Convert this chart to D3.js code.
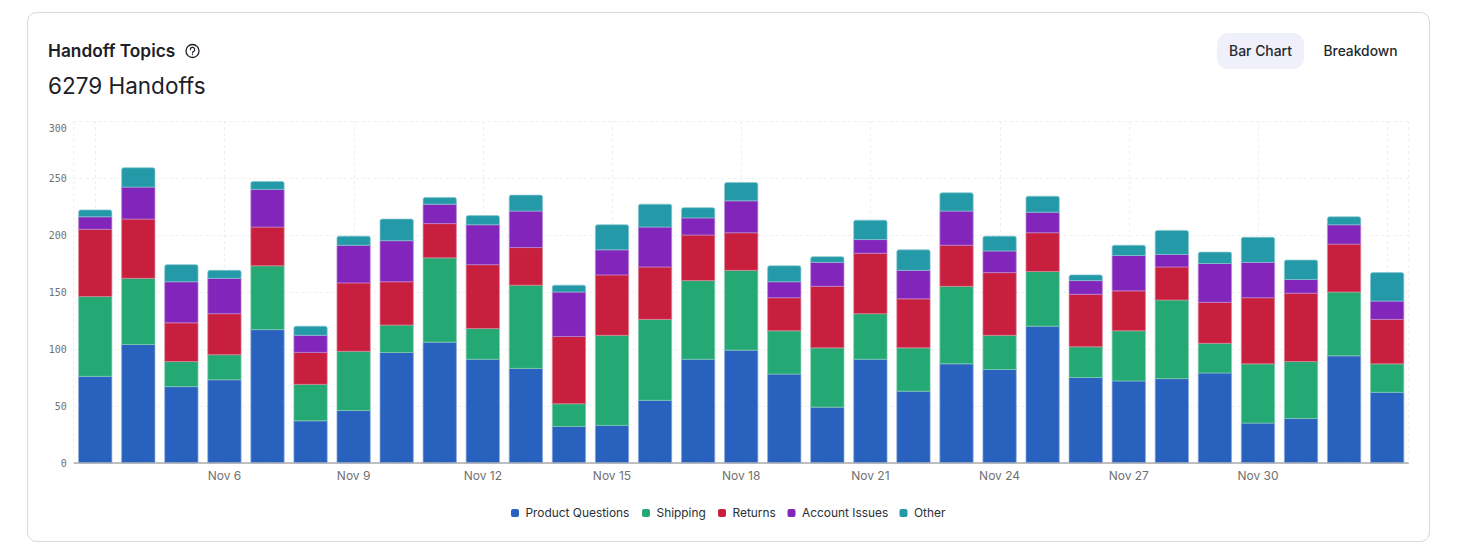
<!DOCTYPE html>
<html><head><meta charset="utf-8">
<script src="https://cdn.jsdelivr.net/npm/d3@7"></script>
<style>
html,body{margin:0;padding:0;background:#fff;width:1458px;height:559px;overflow:hidden}
svg{display:block}
text{font-family:Inter,sans-serif}
</style></head><body>
<svg id="c" width="1458" height="559"></svg>
<script>
const dates=["Nov 3","Nov 4","Nov 5","Nov 6","Nov 7","Nov 8","Nov 9","Nov 10","Nov 11","Nov 12","Nov 13","Nov 14","Nov 15","Nov 16","Nov 17","Nov 18","Nov 19","Nov 20","Nov 21","Nov 22","Nov 23","Nov 24","Nov 25","Nov 26","Nov 27","Nov 28","Nov 29","Nov 30","Dec 1","Dec 2","Dec 3"];
const productQuestions=[76,104,67,73,117,37,46,97,106,91,83,32,33,55,91,99,78,49,91,63,87,82,120,75,72,74,79,35,39,94,62];
const shipping=[70,58,22,22,56,32,52,24,74,27,73,20,79,71,69,70,38,52,40,38,68,30,48,27,44,69,26,52,50,56,25];
const returnsVals=[59,52,34,36,34,28,60,38,30,56,33,59,53,46,40,33,29,54,53,43,36,55,34,46,35,29,36,58,60,42,39];
const accountIssues=[11,28,36,31,33,15,33,36,17,35,32,39,22,35,15,28,14,21,12,25,30,19,18,12,31,11,34,31,12,17,16];
const other=[6,17,15,7,7,8,8,19,6,8,14,6,22,20,9,16,14,5,17,18,16,13,14,5,9,21,10,22,17,7,25];
const seriesNames=["Product Questions","Shipping","Returns","Account Issues","Other"];
const seriesValues=[productQuestions,shipping,returnsVals,accountIssues,other];
const seriesColors=["#2961bf","#24a874","#c91f3f","#8226bb","#249aa8"];
const yTicks=[0,50,100,150,200,250,300];
const xTickDates=["Nov 3","Nov 6","Nov 9","Nov 12","Nov 15","Nov 18","Nov 21","Nov 24","Nov 27","Nov 30","Dec 3"];
const hiddenXLabels=["Nov 3","Dec 3"];

const svg=d3.select("#c");
svg.append("rect").attr("x",27.5).attr("y",12.5).attr("width",1402).attr("height",529).attr("rx",9)
  .attr("fill","#fff").attr("stroke","#d6d9e0");

const header=svg.append("g");
header.append("text").attr("x",48).attr("y",56.5).attr("font-size",17.3).attr("font-weight",600).attr("fill","#1c2026").text("Handoff Topics");
const help=header.append("g").attr("transform","translate(192.5,51)").attr("fill","none").attr("stroke","#1c2026");
help.append("circle").attr("r",6.5).attr("stroke-width",1.3);
help.append("path").attr("d","M-2.2,-1.4 A2.2,2.2 0 1 1 0.9,0.6 C0.2,0.9 0,1.2 0,1.9").attr("stroke-width",1.2).attr("stroke-linecap","round");
help.append("circle").attr("cy",3.6).attr("r",0.7).attr("fill","#1c2026").attr("stroke","none");
header.append("text").attr("x",48).attr("y",94).attr("font-size",22.5).attr("font-weight",400).attr("fill","#1c2026").text("6279 Handoffs");
header.append("rect").attr("x",1217).attr("y",33).attr("width",87).attr("height",36).attr("rx",11).attr("fill","#eff0fa");
header.append("text").attr("x",1260.5).attr("y",56).attr("text-anchor","middle").attr("font-size",13.9).attr("font-weight",500).attr("fill","#24282e").text("Bar Chart");
header.append("text").attr("x",1360.5).attr("y",56).attr("text-anchor","middle").attr("font-size",13.8).attr("font-weight",500).attr("fill","#24282e").text("Breakdown");

const plotL=73.7,plotR=1408.7,plotB=463,plotT=121;
const x=d3.scaleBand().domain(dates).range([plotL,plotR]).paddingInner(0.21).paddingOuter(0.105);
const y=d3.scaleLinear().domain([0,300]).range([plotB,plotT]);

const grid=svg.append("g").attr("fill","none").attr("stroke","#eeeff1").attr("stroke-dasharray","3 3").attr("stroke-width",1);
grid.selectAll(".h").data(yTicks).join("line").attr("class","h").attr("x1",plotL).attr("x2",plotR)
  .attr("y1",d=>Math.round(y(d))+.5).attr("y2",d=>Math.round(y(d))+.5);
grid.selectAll(".v").data(xTickDates).join("line").attr("class","v")
  .attr("x1",d=>Math.round(x(d)+x.bandwidth()/2)+.5).attr("x2",d=>Math.round(x(d)+x.bandwidth()/2)+.5)
  .attr("y1",plotT).attr("y2",plotB);
[plotL,plotR].forEach(v=>grid.append("line").attr("x1",v).attr("x2",v).attr("y1",plotT).attr("y2",plotB));

const table=dates.map((d,i)=>{const r={date:d};seriesNames.forEach((n,k)=>r[n]=seriesValues[k][i]);return r;});
const stacked=d3.stack().keys(seriesNames)(table);
const bars=svg.append("g");
stacked.forEach((layer,k)=>{
  const c=seriesColors[k], c0=d3.interpolateRgb(c,"#fff")(0.45);
  bars.append("g").selectAll("path").data(layer).join("path")
    .attr("fill",c).attr("stroke",c0).attr("stroke-width",0.7)
    .attr("d",d=>{
      const x0=x(d.data.date)+.35,x1=x0+x.bandwidth()-.7,y0=y(d[0]),y1=y(d[1]);
      if(k===seriesNames.length-1){const r=2;
        return `M${x0},${y0}V${y1+r}Q${x0},${y1} ${x0+r},${y1}H${x1-r}Q${x1},${y1} ${x1},${y1+r}V${y0}Z`;}
      return `M${x0},${y0}V${y1}H${x1}V${y0}Z`;
    });
});

const yAxis=svg.append("g").attr("transform",`translate(${plotL-7},0)`)
  .call(d3.axisLeft(y).tickValues(yTicks).tickSize(0).tickPadding(0));
yAxis.select(".domain").remove();
yAxis.selectAll("text").style("font-family","'DejaVu Sans Mono',monospace").attr("font-size",10).attr("fill","#717171")
  .attr("dy",null).attr("dominant-baseline","central")
  .attr("transform",d=>d===300?"translate(0,7)":"");

const xAxis=svg.append("g").attr("transform",`translate(0,${plotB})`)
  .call(d3.axisBottom(x).tickValues(xTickDates.filter(d=>!hiddenXLabels.includes(d))).tickSize(0).tickPadding(8));
xAxis.select(".domain").remove();
xAxis.selectAll("text").attr("font-size",12).attr("fill","#717171").style("font-family","Inter,sans-serif");
svg.append("line").attr("x1",plotL).attr("x2",plotR).attr("y1",plotB).attr("y2",plotB).attr("stroke","#a9abb0").attr("stroke-width",1.4);

const legendX=[511,642,718,787.5,899.5];
const legend=svg.append("g").selectAll("g").data(seriesNames).join("g").attr("transform",(d,i)=>`translate(${legendX[i]},513)`);
legend.append("rect").attr("x",0).attr("y",-4).attr("width",8).attr("height",8).attr("rx",2).attr("fill",(d,i)=>seriesColors[i]);
legend.append("text").attr("x",14.5).attr("dy","0.35em").attr("font-size",11.9).attr("fill","#2b2f36").text(d=>d);
</script>
</body></html>
